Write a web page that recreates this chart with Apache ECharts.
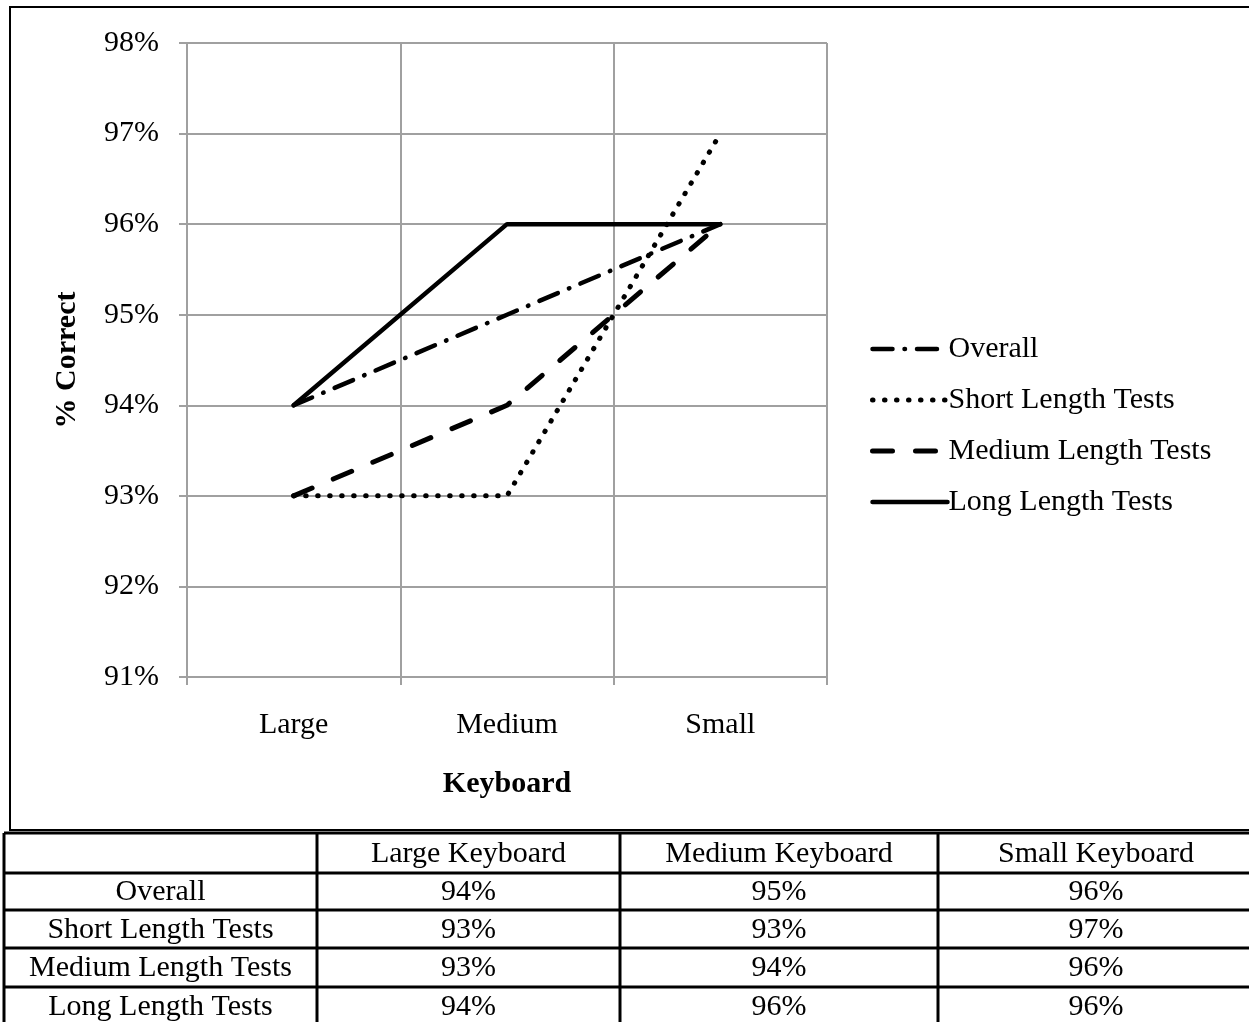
<!DOCTYPE html>
<html>
<head>
<meta charset="utf-8">
<script src="https://cdn.jsdelivr.net/npm/echarts@6/dist/echarts.min.js"></script>
<style>
  html, body { margin: 0; padding: 0; background: #fff; }
  #chart { width: 1249px; height: 1022px; }
</style>
</head>
<body>
<div id="chart"></div>
<script>
// data (percent correct)
var keyboards = ['Large', 'Medium', 'Small'];
var tableHeads = ['Large Keyboard', 'Medium Keyboard', 'Small Keyboard'];
var seriesNames = ['Overall', 'Short Length Tests', 'Medium Length Tests', 'Long Length Tests'];
var overall = [94, 95, 96];
var shortTests = [93, 93, 97];
var mediumTests = [93, 94, 96];
var longTests = [94, 96, 96];

var FONT = '"Liberation Serif", "Times New Roman", serif';
var gridColor = '#a0a0a0';

// line looks per series: dash pattern and width
var dashes = [[20, 12, 0.5, 12], [0.5, 11.5], [20, 23], 'solid'];
var widths = [4.5, 5, 5, 4.5];

var myChart = echarts.init(document.getElementById('chart'));

function lineSeries(i, data) {
    return {
        name: seriesNames[i],
        type: 'line',
        data: data,
        symbol: 'none',
        silent: true,
        itemStyle: {color: '#000'},
        lineStyle: {
            color: '#000',
            width: widths[i],
            type: dashes[i],
            cap: 'round'
        }
    };
}

function legendData() {
    var out = [];
    for (var i = 0; i < seriesNames.length; i++) {
        out.push({
            name: seriesNames[i],
            itemStyle: {opacity: 0},
            lineStyle: {color: '#000', width: widths[i], type: dashes[i], cap: 'round'}
        });
    }
    return out;
}

// table below the chart, built from the same arrays
function tableGraphics() {
    var rows = [overall, shortTests, mediumTests, longTests];
    var colX = [4, 317, 620, 938, 1254];
    var rowY = [833, 873, 910, 948, 987, 1026];
    var els = [];
    var i, j;
    for (i = 0; i < rowY.length; i++) {
        els.push({type: 'line', shape: {x1: colX[0], y1: rowY[i], x2: colX[4], y2: rowY[i]},
            style: {stroke: '#000', lineWidth: 3}});
    }
    for (j = 0; j < colX.length; j++) {
        els.push({type: 'line', shape: {x1: colX[j], y1: rowY[0], x2: colX[j], y2: rowY[5]},
            style: {stroke: '#000', lineWidth: 3}});
    }
    function cell(txt, c, r) {
        els.push({type: 'text', x: (colX[c] + colX[c + 1]) / 2, y: (rowY[r] + rowY[r + 1]) / 2 + 1,
            style: {text: txt, font: '30px ' + FONT, fill: '#000', align: 'center', verticalAlign: 'middle'}});
    }
    for (j = 0; j < tableHeads.length; j++) cell(tableHeads[j], j + 1, 0);
    for (i = 0; i < rows.length; i++) {
        cell(seriesNames[i], 0, i + 1);
        for (j = 0; j < rows[i].length; j++) cell(rows[i][j] + '%', j + 1, i + 1);
    }
    return els;
}

var option = {
    animation: false,
    backgroundColor: '#fff',
    textStyle: {fontFamily: FONT, color: '#000'},
    grid: {left: 187, right: 422, top: 43, bottom: 345},
    legend: {
        data: legendData(),
        orient: 'vertical',
        left: 865,
        top: 329,
        itemWidth: 75,
        itemHeight: 14,
        itemGap: 21,
        textStyle: {fontFamily: FONT, fontSize: 30, color: '#000', padding: [0, 0, 0, -4]}
    },
    xAxis: {
        type: 'category',
        data: keyboards,
        boundaryGap: true,
        axisLine: {lineStyle: {color: gridColor, width: 2}},
        axisTick: {show: true, length: 8, lineStyle: {color: gridColor, width: 2}},
        splitLine: {show: true, lineStyle: {color: gridColor, width: 2}},
        axisLabel: {fontFamily: FONT, fontSize: 30, color: '#000', margin: 33},
        name: 'Keyboard',
        nameLocation: 'middle',
        nameGap: 92,
        nameTextStyle: {fontFamily: FONT, fontSize: 30, fontWeight: 'bold', color: '#000'}
    },
    yAxis: {
        type: 'value',
        min: 91,
        max: 98,
        interval: 1,
        axisLine: {show: true, lineStyle: {color: gridColor, width: 2}},
        axisTick: {show: true, length: 8, lineStyle: {color: gridColor, width: 2}},
        splitLine: {show: true, lineStyle: {color: gridColor, width: 2}},
        axisLabel: {fontFamily: FONT, fontSize: 30, color: '#000', margin: 28, formatter: '{value}%'},
        name: '% Correct',
        nameLocation: 'middle',
        nameGap: 105,
        nameRotate: 90,
        nameTextStyle: {fontFamily: FONT, fontSize: 30, fontWeight: 'bold', color: '#000'}
    },
    series: [
        lineSeries(0, overall),
        lineSeries(1, shortTests),
        lineSeries(2, mediumTests),
        lineSeries(3, longTests)
    ],
    graphic: [
        {type: 'rect', shape: {x: 10, y: 7, width: 1260, height: 823},
            style: {fill: 'none', stroke: '#000', lineWidth: 2}, silent: true}
    ].concat(tableGraphics())
};

myChart.setOption(option);
</script>
</body>
</html>
